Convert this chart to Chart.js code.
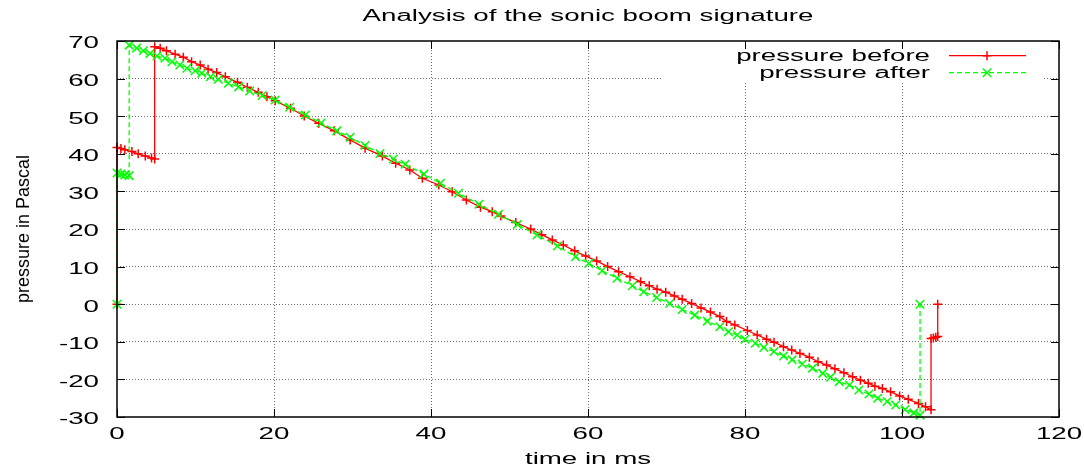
<!DOCTYPE html>
<html>
<head>
<meta charset="utf-8">
<script src="https://cdn.jsdelivr.net/npm/chart.js@4/dist/chart.umd.min.js"></script>
<style>
html, body { margin: 0; padding: 0; background: #fff; }
canvas { display: block; }
</style>
</head>
<body>
<canvas id="c" width="1084" height="470"></canvas>
<script>
// ---------- data ----------
const chartTitle = 'Analysis of the sonic boom signature';
const xAxisTitle = 'time in ms';
const yAxisTitle = 'pressure in Pascal';
const seriesNames = ['pressure before', 'pressure after'];
const xTicks = [0, 20, 40, 60, 80, 100, 120];
const yTicks = [-30, -20, -10, 0, 10, 20, 30, 40, 50, 60, 70];

// [time in ms, pressure in Pa]
const pressureBefore = [
  [0, 0], [0, 41.7], [0.5, 41.4], [1.0, 41.1], [1.9, 40.6], [2.7, 40.0], [3.6, 39.4], [4.4, 38.9], [4.8, 38.6],
  [4.8, 68.5], [5.5, 68.1], [6.3, 67.4], [7.4, 66.5], [8.45, 65.7], [9.5, 64.5], [10.6, 63.6], [11.6, 62.5],
  [12.7, 61.6], [13.8, 60.5], [15.35, 59.0], [16.6, 57.7], [18.0, 56.35], [19.1, 55.2], [20.15, 54.1],
  [22.1, 52.1], [23.85, 50.05], [25.7, 48.1], [27.7, 46.1], [29.7, 43.7], [31.6, 41.5], [33.8, 39.4],
  [35.5, 37.5], [37.3, 35.7], [38.9, 33.5], [41.0, 31.7], [42.7, 29.9], [44.5, 27.7], [46.3, 25.8],
  [47.8, 24.6], [48.9, 23.45], [50.8, 21.7], [52.7, 20.0], [54.1, 18.5], [55.45, 17.1], [56.85, 15.75],
  [58.3, 14.2], [59.7, 12.8], [61.1, 11.5], [62.5, 10.0], [63.9, 8.65], [65.35, 7.3], [66.7, 6.0],
  [67.8, 4.9], [68.8, 4.0], [69.9, 3.2], [71.0, 2.2], [72.0, 1.3], [73.2, 0.2], [74.4, -1.0], [75.6, -2.1],
  [76.8, -3.3], [77.65, -4.6], [78.7, -5.5], [80.3, -7.0], [81.55, -8.2], [82.75, -9.3], [83.7, -10.1],
  [84.9, -11.3], [85.95, -12.2], [87.0, -13.1], [88.2, -14.1], [89.3, -15.3], [90.4, -16.2], [91.45, -17.2],
  [92.6, -18.2], [93.7, -19.3], [94.7, -20.2], [95.7, -21.0], [96.55, -21.8], [97.5, -22.4], [98.55, -23.3],
  [99.7, -24.4], [100.8, -25.3], [102.1, -26.4], [103.0, -27.3], [103.7, -28.1],
  [103.7, -9.1], [104.0, -9.0], [104.3, -8.8], [104.55, -8.6], [104.55, 0]
];

const pressureAfter = [
  [0, 0], [0, 34.9], [0.5, 34.6], [1.0, 34.4], [1.55, 34.2],
  [1.55, 68.9], [2.5, 68.1], [3.35, 67.4], [4.2, 66.7], [5.1, 66.0], [6.1, 65.4], [7.0, 64.5], [8.0, 63.6],
  [8.9, 62.75], [9.95, 62.1], [10.8, 61.4], [11.9, 60.5], [12.9, 59.8], [14.2, 58.8], [15.5, 57.8],
  [16.9, 56.7], [18.5, 55.5], [20.15, 54.3], [22.0, 52.4], [24.0, 50.3], [26.0, 48.2], [28.0, 46.1],
  [29.7, 44.4], [31.6, 42.2], [33.5, 40.1], [35.2, 38.6], [36.7, 37.2], [39.1, 34.6], [41.2, 32.15],
  [43.5, 29.5], [46.1, 26.6], [48.6, 23.9], [51.0, 21.2], [53.5, 18.4], [56.1, 15.5], [58.4, 12.6],
  [60.1, 10.85], [61.8, 8.9], [63.7, 6.9], [65.65, 4.9], [67.1, 3.3], [68.75, 1.8], [70.4, 0.2],
  [72.0, -1.4], [73.6, -2.9], [75.2, -4.5], [76.8, -6.0], [77.9, -7.3], [79.0, -8.2], [80.0, -9.3],
  [81.3, -10.4], [82.4, -11.5], [83.7, -12.6], [84.9, -13.8], [86.0, -14.8], [87.3, -15.9], [88.6, -17.0],
  [89.9, -18.4], [90.9, -19.4], [92.0, -20.6], [93.3, -21.5], [94.5, -22.8], [95.8, -23.9], [96.9, -25.0],
  [98.1, -25.9], [99.2, -26.8], [100.4, -28.0], [101.5, -28.9], [102.3, -29.5], [102.3, 0]
];

// ---------- rendering ----------
const FONT = '"Liberation Sans", Arial, Helvetica, sans-serif';
const canvas = document.getElementById('c');
const ctx2d = canvas.getContext('2d');

// The reference image is horizontally stretched: widen horizontal text the same way.
const STRETCH = 1.73;
const nativeFill = ctx2d.fillText.bind(ctx2d);
ctx2d.fillText = function (text, x, y, maxWidth) {
  const m = this.getTransform();
  if (Math.abs(m.b) > 1e-6 || Math.abs(m.c) > 1e-6) {
    return nativeFill(text, x, y);
  }
  // y tick labels (right aligned, middle baseline) sit slightly lower in the reference
  const dy = (this.textAlign === 'right' && this.textBaseline === 'middle') ? 3 : 0;
  this.save();
  this.translate(x, y + dy);
  this.scale(STRETCH, 1);
  nativeFill(text, 0, 0);
  this.restore();
};

const gnuFrame = {
  id: 'gnuFrame',
  beforeDatasetsDraw(chart) {
    const { ctx, chartArea: a } = chart;
    ctx.save();
    // title centred over the plot area
    ctx.font = '16px ' + FONT;
    ctx.fillStyle = '#000';
    ctx.textAlign = 'center';
    ctx.textBaseline = 'alphabetic';
    ctx.fillText(chartTitle, (a.left + a.right) / 2, a.top - 20);
    // key box blanks the grid behind it
    ctx.fillStyle = '#fff';
    ctx.fillRect(a.right - 397, a.top + 1, 380, 41);
    chart.data.datasets.forEach((ds, i) => {
      const y = a.top + 14.7 + i * 17;
      ctx.font = '16px ' + FONT;
      ctx.textAlign = 'right';
      ctx.textBaseline = 'alphabetic';
      ctx.fillStyle = '#000';
      ctx.fillText(ds.label, a.right - 129, y + 5.3);
      ctx.strokeStyle = ds.borderColor;
      ctx.lineWidth = ds.borderWidth;
      ctx.setLineDash(ds.borderDash || []);
      ctx.beginPath();
      ctx.moveTo(a.right - 110, y);
      ctx.lineTo(a.right - 33, y);
      ctx.stroke();
      ctx.setLineDash([]);
      ctx.lineWidth = ds.pointBorderWidth;
      ctx.fillStyle = ds.borderColor;
      Chart.helpers.drawPoint(ctx, {
        pointStyle: ds.pointStyle, radius: ds.pointRadius, borderWidth: ds.pointBorderWidth, rotation: 0
      }, a.right - 72, y);
    });
    ctx.restore();
  },
  afterDatasetsDraw(chart) {
    const { ctx, chartArea: a, scales } = chart;
    ctx.save();
    ctx.strokeStyle = '#000';
    ctx.setLineDash([]);
    ctx.lineWidth = 1;
    const L = 8;
    ctx.beginPath();
    scales.x.ticks.forEach(t => {
      const px = Math.round(scales.x.getPixelForValue(t.value)) + 0.5;
      ctx.moveTo(px, a.bottom); ctx.lineTo(px, a.bottom - L);
      ctx.moveTo(px, a.top); ctx.lineTo(px, a.top + L);
    });
    scales.y.ticks.forEach(t => {
      const py = Math.round(scales.y.getPixelForValue(t.value)) + 0.5;
      ctx.moveTo(a.left, py); ctx.lineTo(a.left + L, py);
      ctx.moveTo(a.right, py); ctx.lineTo(a.right - L, py);
    });
    ctx.stroke();
    ctx.lineWidth = 1.5;
    ctx.strokeRect(a.left, a.top, a.right - a.left, a.bottom - a.top);
    ctx.restore();
  }
};

const gridColor = (lo, hi) => (c) => {
  const v = c.tick && c.tick.value;
  return (v === lo || v === hi) ? 'rgba(0,0,0,0)' : '#6e6e6e';
};

new Chart(ctx2d, {
  type: 'scatter',
  data: {
    datasets: [
      {
        label: seriesNames[0],
        data: pressureBefore.map(([x, y]) => ({ x, y })),
        showLine: true,
        borderColor: '#ff0000',
        backgroundColor: '#ff0000',
        borderWidth: 1.3,
        pointStyle: 'cross',
        pointRadius: 4.5,
        pointBorderWidth: 1.5,
        pointHoverRadius: 4.5,
        clip: 10,
        order: 1
      },
      {
        label: seriesNames[1],
        data: pressureAfter.map(([x, y]) => ({ x, y })),
        showLine: true,
        borderColor: '#00ff00',
        backgroundColor: '#00ff00',
        borderWidth: 1.3,
        borderDash: [5, 3],
        pointStyle: 'crossRot',
        pointRadius: 6,
        pointBorderWidth: 1.5,
        pointHoverRadius: 6,
        clip: 10,
        order: 0
      }
    ]
  },
  options: {
    responsive: false,
    animation: false,
    events: [],
    layout: { padding: { left: 0, right: 25, top: 41, bottom: 0 } },
    plugins: {
      legend: { display: false },
      tooltip: { enabled: false },
      title: { display: false }
    },
    scales: {
      x: {
        type: 'linear',
        min: xTicks[0],
        max: xTicks[xTicks.length - 1],
        afterBuildTicks: s => { s.ticks = xTicks.map(v => ({ value: v })); },
        afterFit: s => { s.height = 53; },
        grid: { color: gridColor(xTicks[0], xTicks[xTicks.length - 1]), lineWidth: 1, drawTicks: false },
        border: { display: false, dash: [1, 2] },
        ticks: { color: '#000', font: { family: FONT, size: 16 }, padding: 8, maxRotation: 0, autoSkip: false },
        title: {
          display: true, text: xAxisTitle, color: '#000',
          font: { family: FONT, size: 16 }, padding: { top: 0, bottom: 1 }
        }
      },
      y: {
        type: 'linear',
        min: yTicks[0],
        max: yTicks[yTicks.length - 1],
        afterBuildTicks: s => { s.ticks = yTicks.map(v => ({ value: v })); },
        afterFit: s => { s.width = 117; },
        grid: { color: gridColor(yTicks[0], yTicks[yTicks.length - 1]), lineWidth: 1, drawTicks: false },
        border: { display: false, dash: [1, 2] },
        ticks: { color: '#000', font: { family: FONT, size: 16 }, padding: 18, autoSkip: false },
        title: {
          display: true, text: yAxisTitle, color: '#000',
          font: { family: FONT, size: 18 }, padding: { top: 13, bottom: 0 }
        }
      }
    }
  },
  plugins: [gnuFrame]
});
</script>
</body>
</html>
